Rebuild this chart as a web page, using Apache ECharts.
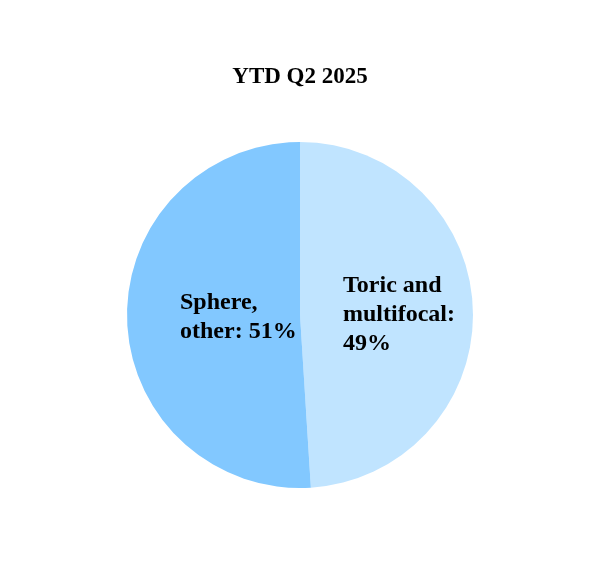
<!DOCTYPE html>
<html><head><meta charset="utf-8">
<script src="https://cdn.jsdelivr.net/npm/echarts@6/dist/echarts.min.js"></script>
<style>html,body{margin:0;padding:0;background:#fff}#c{width:600px;height:572px}</style>
</head><body><div id="c"></div>
<script>
const categories = ["Toric and\nmultifocal", "Sphere,\nother"];
const values = [49, 51];
const valueSeparators = ["\n", " "];
const colors = ["#C0E4FF", "#82C8FF"];
const chart = echarts.init(document.getElementById('c'), null, {renderer:'canvas'});
chart.setOption({
  animation:false,
  title:{text:'YTD Q2 2025', left:'center', top:61,
    textStyle:{fontFamily:'Liberation Serif', fontWeight:'bold', fontSize:23, color:'#000'}},
  series:[{
    type:'pie', center:[300,315], radius:[0,173], startAngle:90, clockwise:true,
    label:{show:true, position:'inside', fontFamily:'Liberation Serif', fontWeight:'bold',
      fontSize:24, lineHeight:29, color:'#000',
      formatter: p => p.name + ':' + valueSeparators[p.dataIndex] + p.value + '%'},
    labelLine:{show:false},
    itemStyle:{borderWidth:0},
    emphasis:{disabled:true},
    labelLayout: p => p.dataIndex===0
      ? {x:343, y:271, align:'left', verticalAlign:'top'}
      : {x:180, y:288, align:'left', verticalAlign:'top'},
    data: categories.map((c,i)=>({name:c, value:values[i], itemStyle:{color:colors[i]}}))
  }]
});
</script></body></html>
